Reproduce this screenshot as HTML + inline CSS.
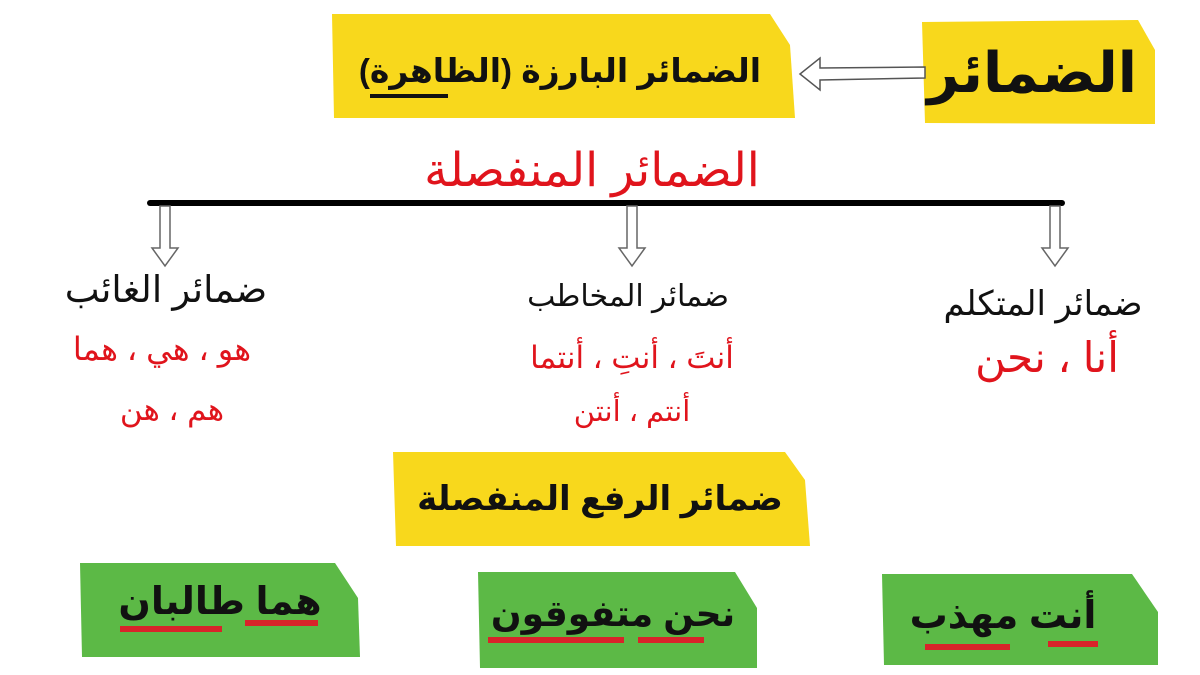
<!DOCTYPE html>
<html><head><meta charset="utf-8"><style>
html,body{margin:0;padding:0;background:#fff;width:1200px;height:675px;overflow:hidden}
text{font-family:"Liberation Sans","Noto Sans CJK SC","DejaVu Sans",sans-serif}
</style></head><body>
<svg width="1200" height="675" viewBox="0 0 1200 675" xmlns="http://www.w3.org/2000/svg">
<polygon points="922,22 1138,20 1155,50 1155,124 925,123" fill="#f8d81c"/>
<polygon points="332,14 770,14 790,45 795,118 334,118" fill="#f8d81c"/>
<polygon points="393,452 785,452 805,480 810,546 396,546" fill="#f8d81c"/>
<polygon points="80,563 335,563 358,598 360,657 82,657" fill="#5cb946"/>
<polygon points="478,572 735,572 757,608 757,668 480,668" fill="#5cb946"/>
<polygon points="882,574 1132,574 1158,612 1158,665 884,665" fill="#5cb946"/>
<polygon points="925,67 820,68 820,58 800,74 820,90 820,80 925,78" fill="#fff" stroke="#555" stroke-width="1.5"/>
<line x1="150" y1="203" x2="1062" y2="203" stroke="#000" stroke-width="6" stroke-linecap="round"/>
<g fill="#fff" stroke="#666" stroke-width="1.5">
<polygon points="160,206 170,206 170,248 178,248 165,266 152,248 160,248"/>
<polygon points="627,206 637,206 637,248 645,248 632,266 619,248 627,248"/>
<polygon points="1050,206 1060,206 1060,248 1068,248 1055,266 1042,248 1050,248"/>
</g>
<g direction="rtl" text-anchor="middle">
<text x="1032" y="92" font-size="56" font-weight="bold" fill="#111">الضمائر</text>
<text x="560" y="82" font-size="33" font-weight="bold" fill="#111">الضمائر البارزة (الظاهرة)</text>
<line x1="370" y1="96" x2="448" y2="96" stroke="#111" stroke-width="4"/>
<text x="592" y="186" font-size="47" fill="#e0141c">الضمائر المنفصلة</text>
<text x="166" y="302" font-size="37" fill="#111">ضمائر الغائب</text>
<text x="162" y="360" font-size="32" fill="#e0141c">هو ، هي ، هما</text>
<text x="172" y="420" font-size="31" fill="#e0141c">هم ، هن</text>
<text x="628" y="306" font-size="30" fill="#111">ضمائر المخاطب</text>
<text x="632" y="368" font-size="31" fill="#e0141c">أنتَ ، أنتِ ، أنتما</text>
<text x="632" y="421" font-size="29" fill="#e0141c">أنتم ، أنتن</text>
<text x="1043" y="315" font-size="34" fill="#111">ضمائر المتكلم</text>
<text x="1047" y="372" font-size="42" fill="#e0141c">أنا ، نحن</text>
<text x="600" y="510" font-size="34" font-weight="bold" fill="#111">ضمائر الرفع المنفصلة</text>
<text x="220" y="614" font-size="38" font-weight="bold" fill="#111">هما طالبان</text>
<text x="613" y="626" font-size="36" font-weight="bold" fill="#111">نحن متفوقون</text>
<text x="1003" y="628" font-size="38" font-weight="bold" fill="#111">أنت مهذب</text>
</g>
<g stroke="#d8242a" stroke-width="6">
<line x1="120" y1="629" x2="222" y2="629"/><line x1="245" y1="623" x2="318" y2="623"/>
<line x1="488" y1="640" x2="624" y2="640"/><line x1="638" y1="640" x2="704" y2="640"/>
<line x1="925" y1="647" x2="1010" y2="647"/><line x1="1048" y1="644" x2="1098" y2="644"/>
</g>
</svg>
</body></html>
